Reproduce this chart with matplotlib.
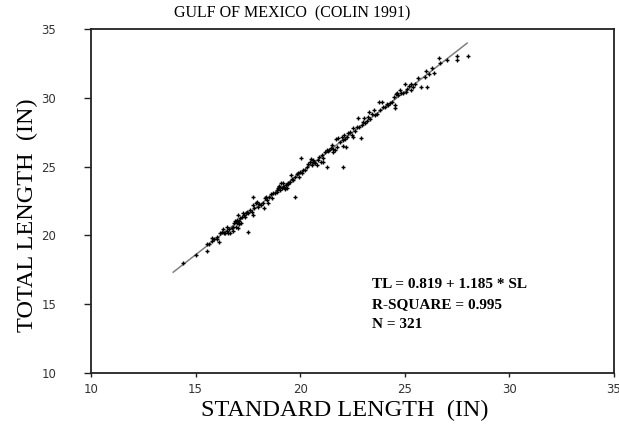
import matplotlib
matplotlib.use("Agg")
import matplotlib.pyplot as plt

# Standard length (SL, in) and total length (TL, in)
sl = [14.38, 15.02, 15.53, 15.56, 15.66, 15.77, 15.80, 15.88, 16.01, 16.04,
      16.13, 16.17, 16.25, 16.29, 16.36, 16.41, 16.49, 16.52, 16.56, 16.61,
      16.64, 16.72, 16.77, 16.80, 16.84, 16.88, 16.93, 16.96, 17.00, 17.04,
      17.04, 17.09, 17.12, 17.15, 17.20, 17.25, 17.31, 17.36, 17.41, 17.47,
      17.52, 17.52, 17.60, 17.68, 17.73, 17.76, 17.76, 17.79, 17.89, 17.95,
      18.00, 18.05, 18.11, 18.24, 18.29, 18.32, 18.37, 18.43, 18.48, 18.52,
      18.59, 18.64, 18.72, 18.80, 18.88, 18.96, 19.00, 19.03, 19.07, 19.11,
      19.16, 19.19, 19.27, 19.32, 19.35, 19.43, 19.51, 19.54, 19.59, 19.67,
      19.75, 19.77, 19.83, 19.91, 19.96, 19.99, 20.02, 20.07, 20.15, 20.23,
      20.31, 20.39, 20.47, 20.50, 20.55, 20.60, 20.66, 20.71, 20.79, 20.87,
      20.91, 20.98, 21.03, 21.07, 21.11, 21.19, 21.27, 21.30, 21.39, 21.46,
      21.50, 21.55, 21.58, 21.66, 21.71, 21.74, 21.82, 21.90, 21.98, 22.03,
      22.06, 22.06, 22.09, 22.14, 22.19, 22.22, 22.30, 22.38, 22.46, 22.51,
      22.54, 22.62, 22.70, 22.78, 22.83, 22.89, 22.94, 23.02, 23.05, 23.10,
      23.18, 23.26, 23.30, 23.34, 23.42, 23.53, 23.58, 23.69, 23.78, 23.81,
      23.89, 23.97, 24.05, 24.13, 24.21, 24.29, 24.37, 24.48, 24.53, 24.53,
      24.58, 24.64, 24.69, 24.77, 24.80, 24.93, 25.01, 25.06, 25.12, 25.22,
      25.28, 25.28, 25.38, 25.49, 25.65, 25.76, 25.97, 26.01, 26.05, 26.17,
      26.28, 26.40, 26.65, 26.68, 27.00, 27.51, 27.51, 28.01,
      16.99, 17.07, 18.90, 18.99, 19.22, 19.40, 20.60, 21.35]
tl = [18.02, 18.55, 18.87, 19.37, 19.37, 19.59, 19.81, 19.71, 19.71, 19.91,
      19.54, 20.15, 20.27, 20.44, 20.20, 20.20, 20.32, 20.63, 20.20, 20.44,
      20.20, 20.51, 20.34, 20.63, 20.92, 21.05, 20.63, 21.12, 20.88, 21.48,
      20.51, 21.05, 21.24, 20.92, 21.36, 21.60, 21.48, 21.36, 21.60, 21.72,
      20.27, 21.60, 21.85, 21.72, 21.48, 22.81, 22.21, 21.97, 22.33, 22.45,
      22.09, 22.28, 22.21, 22.38, 21.97, 22.69, 22.81, 22.57, 22.33, 22.81,
      23.01, 22.69, 23.11, 23.06, 23.18, 23.42, 23.54, 23.30, 23.78, 23.42,
      23.54, 23.78, 23.35, 23.66, 23.42, 23.78, 23.90, 24.39, 24.07, 24.03,
      24.27, 22.81, 24.46, 24.56, 24.27, 24.63, 25.60, 24.51, 24.75, 24.75,
      24.99, 25.19, 25.36, 25.53, 25.12, 25.48, 25.36, 25.24, 25.12, 25.48,
      25.67, 25.36, 25.84, 25.60, 25.36, 26.08, 24.99, 26.21, 26.21, 26.33,
      26.57, 26.25, 26.08, 26.21, 26.98, 26.45, 27.05, 26.81, 27.17, 26.50,
      26.93, 24.99, 27.30, 26.98, 26.45, 27.17, 27.42, 27.54, 27.30, 27.17,
      27.78, 27.61, 27.85, 28.51, 27.85, 27.05, 28.02, 28.27, 28.51, 28.14,
      28.34, 28.58, 28.99, 28.43, 28.82, 29.11, 28.75, 28.82, 29.72, 29.11,
      29.72, 29.35, 29.35, 29.55, 29.48, 29.60, 29.72, 30.03, 29.23, 29.48,
      30.28, 30.32, 30.20, 30.57, 30.37, 30.37, 31.00, 30.45, 30.61, 30.86,
      31.00, 30.57, 30.81, 31.00, 31.41, 30.76, 31.54, 31.97, 30.76, 31.73,
      32.14, 31.78, 32.87, 32.50, 32.75, 33.04, 32.75, 33.04,
      21.00, 20.80, 23.30, 23.60, 23.50, 23.70, 25.30, 26.10]

# Fitted regression line end points
fit_sl = [13.93, 27.98]
fit_intercept = 0.819
fit_slope = 1.185
fit_tl = [fit_intercept + fit_slope * v for v in fit_sl]

x_ticks = [10, 15, 20, 25, 30, 35]
y_ticks = [10, 15, 20, 25, 30, 35]

fig = plt.figure(figsize=(6.19, 4.28), dpi=100)
ax = fig.add_axes([91 / 619, 1 - 373 / 428, (614 - 91) / 619, (373 - 29) / 428])

ax.plot(fit_sl, fit_tl, color="#7f7f7f", linewidth=1.1, zorder=2)
ax.plot(sl, tl, linestyle="none", marker="+", color="black",
        markersize=3.5, markeredgewidth=1.0, zorder=3)

ax.set_xlim(10, 35)
ax.set_ylim(10, 35)
ax.set_xticks(x_ticks)
ax.set_yticks(y_ticks)
tick_font = {"family": ["Liberation Sans Narrow", "DejaVu Sans"], "size": 8.5}
ax.set_xticklabels([str(v) for v in x_ticks], fontdict=tick_font, color="#333333")
ax.set_yticklabels([str(v) for v in y_ticks], fontdict=tick_font, color="#333333")
ax.tick_params(axis="y", direction="out", length=5, width=1, pad=20, color="#222222")
ax.tick_params(axis="x", direction="out", length=3, width=1, pad=4, color="#222222")
for s in ax.spines.values():
    s.set_linewidth(1.3)
    s.set_color("#222222")

serif = ["Liberation Serif", "DejaVu Serif"]
fig.text(292 / 619, 1 - 13 / 428, "GULF OF MEXICO  (COLIN 1991)",
         family=serif, fontsize=11.5, ha="center", va="center")
fig.text(345 / 619, 1 - 410 / 428, "STANDARD LENGTH  (IN)",
         family=serif, fontsize=17.5, ha="center", va="center")
fig.text(27 / 619, 1 - 215 / 428, "TOTAL LENGTH  (IN)",
         family=serif, fontsize=17.5, ha="center", va="center", rotation=90)

stats = ["TL = 0.819 + 1.185 * SL", "R-SQUARE = 0.995", "N = 321"]
for i, line in enumerate(stats):
    fig.text(372 / 619, 1 - (285 + 20 * i) / 428, line, family=serif,
             fontsize=11, fontweight="bold", ha="left", va="center")

fig.savefig("out.png", dpi=100)
